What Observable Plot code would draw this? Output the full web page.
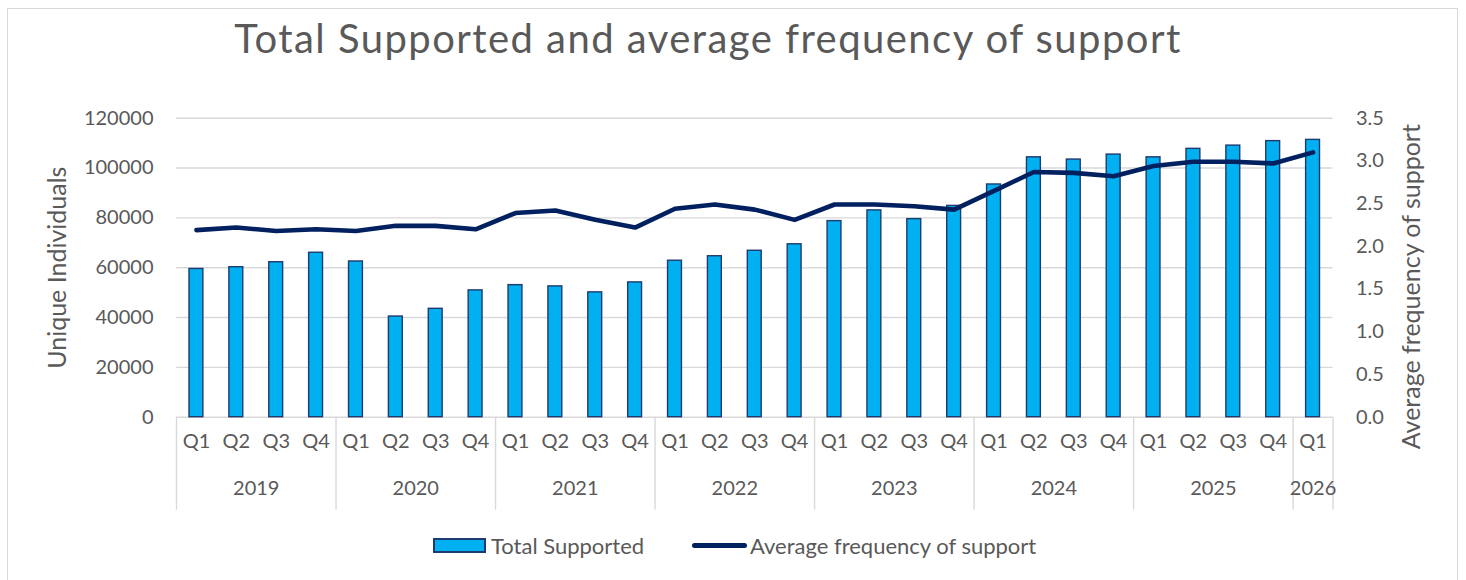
<!DOCTYPE html>
<html>
<head>
<meta charset="utf-8">
<script src="https://cdn.jsdelivr.net/npm/d3@7"></script>
<script src="https://cdn.jsdelivr.net/npm/@observablehq/plot@0.6"></script>
<style>
  html, body { margin: 0; padding: 0; background: #fff; width: 1466px; height: 580px; overflow: hidden; }
  #frame { position: absolute; left: 7px; top: 8px; width: 1451px; height: 600px; border: 1.5px solid #d9d9d9; box-sizing: border-box; }
  #title { position: absolute; top: 14px; left: 0; width: 1416px; text-align: center; font-family: "Lato", sans-serif; font-weight: 400; font-size: 40px; color: #595959; letter-spacing: 1.45px; }
  #chart { position: absolute; left: 0; top: 90px; }
  #legend { position: absolute; top: 532px; left: 0; width: 1466px; font-family: "Lato", sans-serif; font-size: 22px; color: #595959; }
  .item { position: absolute; display: flex; align-items: center; }
  .box { width: 49px; height: 11px; background: #00b0f0; border: 2px solid #1f3a6e; margin-right: 5px; }
  .ln { width: 55px; height: 5px; background: #002060; border-radius: 3px; margin-right: 3px; }
</style>
</head>
<body>
<div id="frame"></div>
<div id="title">Total Supported and average frequency of support</div>
<div id="chart"></div>
<div id="legend">
  <div class="item" style="left:433px;"><div class="box"></div><span>Total Supported</span></div>
  <div class="item" style="left:692px;"><div class="ln"></div><span>Average frequency of support</span></div>
</div>
<script>
// ---- data ----
const years = ["2019","2019","2019","2019","2020","2020","2020","2020","2021","2021","2021","2021","2022","2022","2022","2022","2023","2023","2023","2023","2024","2024","2024","2024","2025","2025","2025","2025","2026"];
const quarters = ["Q1","Q2","Q3","Q4","Q1","Q2","Q3","Q4","Q1","Q2","Q3","Q4","Q1","Q2","Q3","Q4","Q1","Q2","Q3","Q4","Q1","Q2","Q3","Q4","Q1","Q2","Q3","Q4","Q1"];
const totalSupported = [59500, 60200, 62200, 66000, 62500, 40400, 43500, 50900, 53000, 52500, 50100, 54100, 62800, 64600, 66800, 69400, 78700, 83000, 79500, 84800, 93400, 104300, 103400, 105400, 104300, 107700, 109000, 110800, 111300];
const avgFrequency = [2.19, 2.22, 2.18, 2.20, 2.18, 2.24, 2.24, 2.20, 2.39, 2.42, 2.31, 2.22, 2.44, 2.49, 2.43, 2.31, 2.49, 2.49, 2.47, 2.43, 2.65, 2.87, 2.86, 2.82, 2.94, 2.99, 2.99, 2.97, 3.10];
const leftTicks = [0, 20000, 40000, 60000, 80000, 100000, 120000];
const rightTicks = [0, 0.5, 1.0, 1.5, 2.0, 2.5, 3.0, 3.5];
const leftMax = 120000, rightMax = 3.5;

// ---- derived tables ----
const rows = totalSupported.map((v, i) => ({i, year: years[i], q: quarters[i], total: v, freq: avgFrequency[i]}));
const k = leftMax / rightMax;
const yearGroups = d3.groups(rows, d => d.year).map(([year, rs]) => ({year, start: rs[0].i, end: rs[rs.length - 1].i + 1}));
const boundaries = [...yearGroups.map(g => g.start), rows.length];

const W = 1466, H = 430;
const mL = 176, mR = 133.5, mT = 27.7, mB = 103.3;
const frameH = H - mT - mB;

const plot = Plot.plot({
  width: W, height: H,
  marginLeft: mL, marginRight: mR, marginTop: mT, marginBottom: mB,
  style: {fontFamily: "Lato, sans-serif", fontSize: "20px", color: "#595959", background: "transparent"},
  x: {type: "linear", domain: [0, rows.length], axis: null},
  y: {domain: [0, leftMax], axis: null},
  marks: [
    Plot.ruleY(leftTicks, {stroke: "#d9d9d9", strokeWidth: 1.4}),
    Plot.ruleX(boundaries, {stroke: "#d9d9d9", strokeWidth: 1.4, insetTop: frameH, insetBottom: -93}),
    Plot.rectY(rows, {x1: d => d.i, x2: d => d.i + 1, y: "total", fill: "#00b0f0", stroke: "#1f3a6e", strokeWidth: 1.4, insetLeft: 13, insetRight: 13}),
    Plot.lineY(rows, {x: d => d.i + 0.5, y: d => d.freq * k, stroke: "#002060", strokeWidth: 4.6, strokeLinecap: "round", strokeLinejoin: "round"}),
    Plot.axisY(leftTicks, {anchor: "left", tickSize: 0, tickPadding: 23, fontSize: 20, label: null, tickFormat: d => String(d)}),
    Plot.axisY(rightTicks.map(t => t * k), {anchor: "right", tickSize: 0, tickPadding: 23, fontSize: 20, label: null, tickFormat: d => (d / k).toFixed(1)}),
    Plot.text(rows, {x: d => d.i + 0.5, text: "q", frameAnchor: "bottom", dy: 31, fontSize: 20, fill: "#595959"}),
    Plot.text(yearGroups, {x: d => (d.start + d.end) / 2, text: "year", frameAnchor: "bottom", dy: 78, fontSize: 20, fill: "#595959"}),
    Plot.text(["Unique Individuals"], {frameAnchor: "left", textAnchor: "middle", dx: -119, rotate: -90, fontSize: 25, fill: "#595959"}),
    Plot.text(["Average frequency of support"], {frameAnchor: "right", textAnchor: "middle", dx: 79, dy: 19, rotate: -90, fontSize: 25, fill: "#595959"})
  ]
});
document.getElementById("chart").appendChild(plot);
</script>
</body>
</html>
